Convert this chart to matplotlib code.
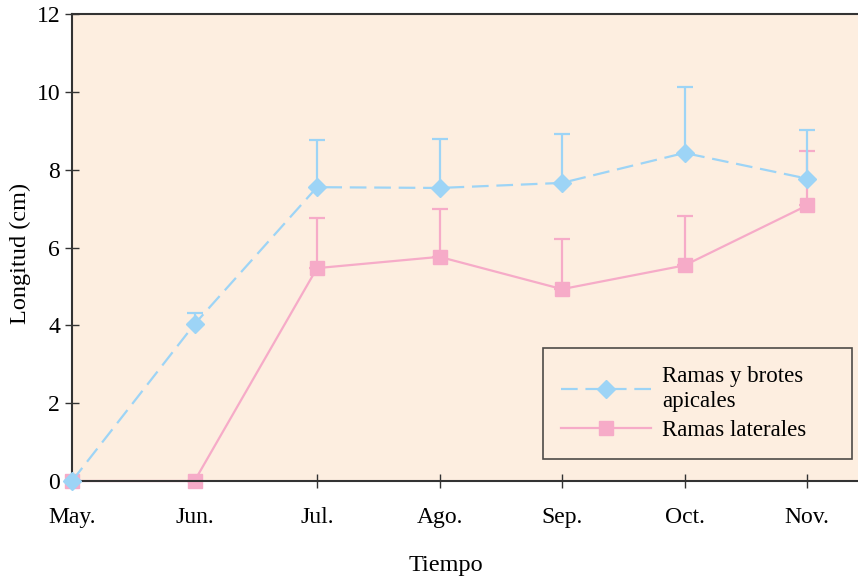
import matplotlib.pyplot as plt
from matplotlib.lines import Line2D
import numpy as np

plt.rcParams['font.family'] = ['Liberation Serif', 'DejaVu Serif']

meses = ['May.', 'Jun.', 'Jul.', 'Ago.', 'Sep.', 'Oct.', 'Nov.']
apicales = [0.0, 4.03, 7.55, 7.53, 7.66, 8.43, 7.77]
apicales_top = [0.0, 4.32, 8.76, 8.78, 8.92, 10.13, 9.01]
laterales = [0.0, 0.0, 5.47, 5.76, 4.93, 5.54, 7.08]
laterales_top = [0.0, 0.0, 6.76, 6.99, 6.22, 6.82, 8.47]

BLUE = '#9dd4f6'
PINK = '#f6abc8'
DASH = (0, (7.5, 3.5))

x = np.arange(len(meses))
fig = plt.figure(figsize=(8.58, 5.78), dpi=100)
ax = fig.add_axes([72 / 858, 1 - 481 / 578, 786 / 858, (481 - 14) / 578])
ax.set_facecolor('#fdeee0')

err_a = [np.zeros(len(x)), np.array(apicales_top) - np.array(apicales)]
err_l = [np.zeros(len(x)), np.array(laterales_top) - np.array(laterales)]

ax.errorbar(x, laterales, yerr=err_l, color=PINK, marker='s', markersize=10,
            linewidth=1.6, capsize=6, capthick=1.6, elinewidth=1.6,
            zorder=2, clip_on=False)
ax.errorbar(x, apicales, yerr=err_a, color=BLUE, marker='D', markersize=9,
            linewidth=1.6, linestyle=DASH, capsize=6, capthick=1.6,
            elinewidth=1.6, zorder=3, clip_on=False)

ax.set_xlim(0, 6.416)
ax.set_ylim(0, 12)
ax.set_xticks(x)
ax.set_xticklabels(meses)
ax.set_yticks(range(0, 13, 2))
ax.tick_params(direction='inout', length=10, width=1, labelsize=17, color='#333333')
ax.tick_params(axis='x', pad=14)
for s in ['left', 'bottom', 'top']:
    ax.spines[s].set_linewidth(1.5)
    ax.spines[s].set_color('#333333')
ax.spines['right'].set_visible(False)

ax.set_xlabel('Tiempo', fontsize=17.5)
ax.xaxis.set_label_coords(0.476, -0.158)
ax.set_ylabel('Longitud (cm)', fontsize=17.5)
ax.yaxis.set_label_coords(-0.052, 0.487)

handles = [
    Line2D([], [], color=BLUE, marker='D', markersize=9, linewidth=1.6, linestyle=DASH),
    Line2D([], [], color=PINK, marker='s', markersize=10, linewidth=1.6),
]
labels = ['Ramas y brotes\napicales', 'Ramas laterales']
leg = ax.legend(handles, labels, loc='lower left',
                bbox_to_anchor=(0.599, 0.047, 0.394, 0), mode='expand',
                borderaxespad=0, fontsize=16.5, frameon=True, fancybox=False,
                edgecolor='#222222', handlelength=3.9, borderpad=0.8,
                labelspacing=0.35, handletextpad=0.5)
leg.get_frame().set_facecolor('#fdeee0')
leg.get_frame().set_linewidth(1.2)

fig.savefig('out.png', dpi=100)
